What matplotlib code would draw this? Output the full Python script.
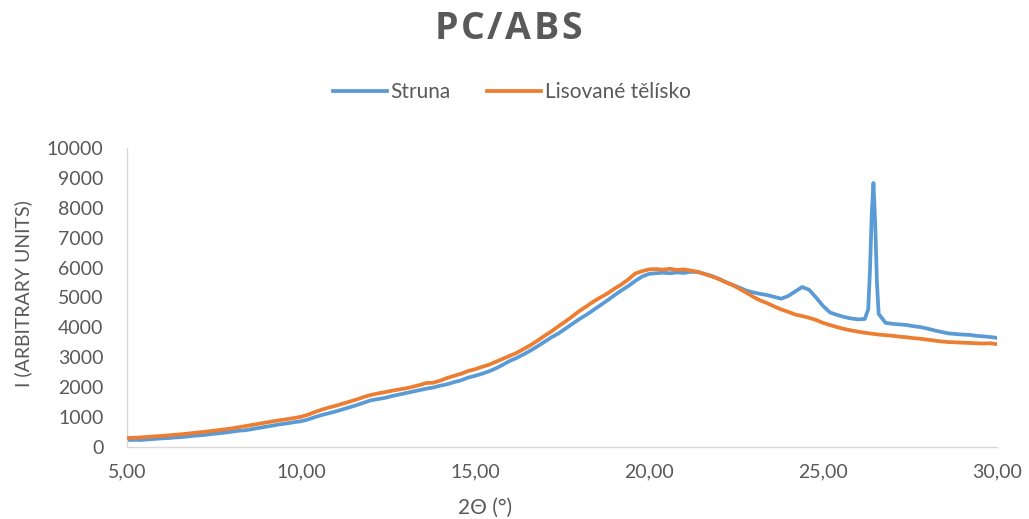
import numpy as np
import matplotlib.pyplot as plt
from matplotlib.ticker import FuncFormatter, MultipleLocator

# 2Theta grid (deg), step 0.2
two_theta = np.round(np.arange(5.0, 30.001, 0.2), 2)

struna = [
    230, 240, 235, 255, 270, 290, 300, 320, 335, 360,
    385, 400, 430, 455, 480, 510, 545, 560, 600, 640,
    680, 720, 760, 790, 830, 860, 920, 1000, 1070, 1130,
    1190, 1260, 1330, 1400, 1480, 1560, 1600, 1640, 1700, 1750,
    1800, 1850, 1900, 1950, 1990, 2050, 2100, 2170, 2230, 2320,
    2380, 2450, 2530, 2630, 2750, 2880, 2980, 3100, 3230, 3370,
    3520, 3670, 3800, 3960, 4120, 4280, 4420, 4580, 4740, 4900,
    5070, 5230, 5380, 5550, 5700, 5790, 5810, 5830, 5810, 5840,
    5820, 5860, 5850, 5790, 5720, 5630, 5520, 5420, 5330, 5230,
    5170, 5120, 5080, 5020, 4960, 5050, 5200, 5350, 5260, 5000,
    4720, 4500, 4420, 4350, 4300, 4270, 4280, 7800, 4450, 4150,
    4120, 4100, 4080, 4040, 4010, 3960, 3900, 3850, 3800, 3780,
    3760, 3750, 3720, 3700, 3680, 3650,
]

# extra points measured on the sharp peak near 26.45 deg
peak_theta = [26.30, 26.35, 26.45, 26.50, 26.55]
peak_struna = [4600, 5900, 8830, 7500, 5500]

lisovane = [
    300, 310, 320, 340, 355, 370, 390, 410, 430, 455,
    480, 505, 530, 560, 590, 620, 660, 700, 740, 780,
    820, 860, 900, 930, 970, 1010, 1080, 1170, 1250, 1320,
    1380, 1450, 1520, 1590, 1670, 1740, 1790, 1830, 1880, 1920,
    1960, 2010, 2070, 2140, 2150, 2220, 2310, 2380, 2450, 2540,
    2600, 2680, 2750, 2850, 2950, 3050, 3150, 3280, 3410, 3560,
    3720, 3870, 4040, 4200, 4370, 4550, 4700, 4860, 5000, 5130,
    5290, 5430, 5600, 5800, 5880, 5940, 5950, 5930, 5960, 5920,
    5940, 5900, 5860, 5780, 5710, 5620, 5510, 5420, 5290, 5160,
    5020, 4900, 4810, 4700, 4600, 4520, 4430, 4380, 4320, 4250,
    4150, 4080, 4010, 3950, 3900, 3860, 3820, 3790, 3760, 3740,
    3720, 3690, 3670, 3640, 3620, 3590, 3560, 3530, 3510, 3500,
    3490, 3480, 3470, 3460, 3470, 3440,
]

# merge the peak points into the Struna series
s_x = np.concatenate([two_theta, peak_theta])
s_y = np.concatenate([struna, peak_struna])
order = np.argsort(s_x)
s_x, s_y = s_x[order], s_y[order]

plt.rcParams["font.family"] = ["Lato", "DejaVu Sans"]
grey = "#595959"
W, H = 1029, 519

fig = plt.figure(figsize=(W / 100, H / 100), dpi=100)
ax = fig.add_axes([127 / W, 1 - 447 / H, 870 / W, 299 / H])

ax.plot(s_x, s_y, color="#5B9BD5", lw=2.7, label="Struna", zorder=2)
ax.plot(two_theta, lisovane, color="#ED7D31", lw=2.7, label="Lisované tělísko", zorder=3)

ax.set_xlim(5, 30)
ax.set_ylim(0, 10000)
ax.xaxis.set_major_locator(MultipleLocator(5))
ax.yaxis.set_major_locator(MultipleLocator(1000))
ax.xaxis.set_major_formatter(FuncFormatter(lambda v, p: f"{v:.2f}".replace(".", ",")))
ax.tick_params(length=0, labelsize=14, colors=grey, pad=12)
ax.tick_params(axis="y", pad=17)

for side in ["top", "right"]:
    ax.spines[side].set_visible(False)
for side in ["left", "bottom"]:
    ax.spines[side].set_color("#D9D9D9")
    ax.spines[side].set_linewidth(1.0)

# axis titles (Excel centres them a bit differently from matplotlib)
fig.text(485 / W, 1 - 508 / H, "2Θ (°)", ha="center", va="center",
         fontsize=15, color=grey)
fig.text(23 / W, 1 - 294 / H, "I (ARBITRARY UNITS)", ha="center", va="center",
         rotation=90, fontsize=14, color=grey)

# title with letter spacing, one character at a time
title = "PC/ABS"
gap = 2.5
r = fig.canvas.get_renderer()
tkw = dict(fontsize=27, fontweight="bold", color=grey,
           family=["Open Sans", "DejaVu Sans"], va="center", ha="left")
widths = []
for ch in title:
    t = fig.text(0, 0, ch, **tkw)
    widths.append(t.get_window_extent(r).width)
    t.remove()
x = 508 - (sum(widths) + gap * (len(title) - 1)) / 2
for ch, w in zip(title, widths):
    fig.text(x / W, 1 - 29 / H, ch, **tkw)
    x += w + gap

fig.legend(loc="center", bbox_to_anchor=(512 / W, 1 - 92 / H), ncol=2, frameon=False,
           fontsize=15, labelcolor=grey, handlelength=2.55, columnspacing=1.75,
           handletextpad=0.2)

fig.savefig("out.png", dpi=100)
